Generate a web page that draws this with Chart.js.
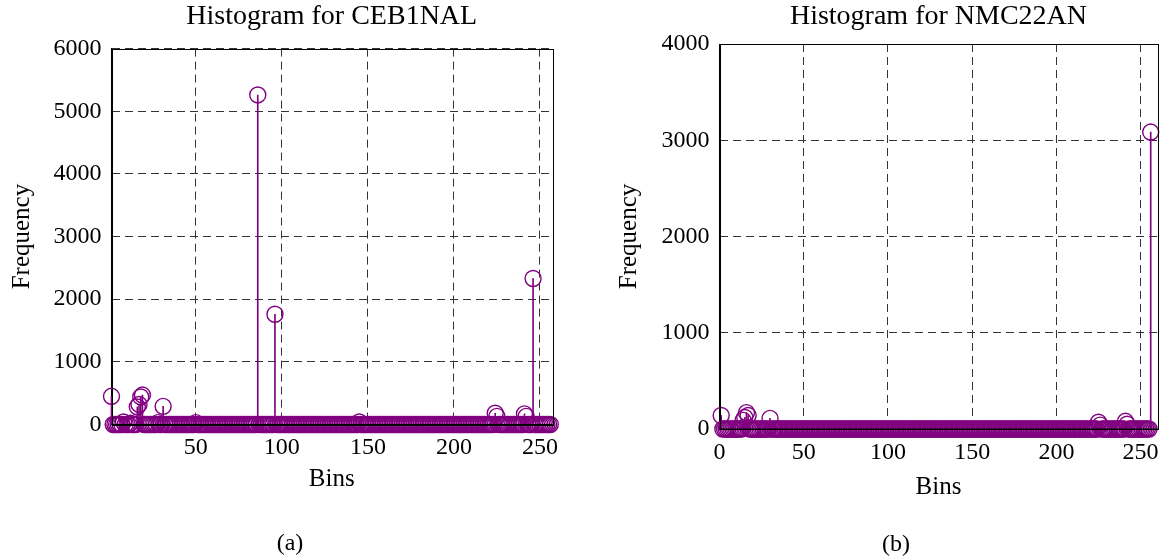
<!DOCTYPE html>
<html>
<head>
<meta charset="utf-8">
<title>Histograms</title>
<script src="https://cdn.jsdelivr.net/npm/chart.js@4.4.1/dist/chart.umd.min.js"></script>
<style>
  body { margin: 0; background: #fff; }
  #wrap { position: relative; width: 1168px; height: 560px; overflow: hidden; }
  .pane { position: absolute; top: 0; height: 560px; }
  .cap {
    position: absolute;
    font: 24px 'Liberation Serif', 'Times New Roman', serif;
    color: #000;
    transform: translate(-50%, -50%);
    white-space: nowrap;
  }
</style>
</head>
<body>
<div id="wrap">
  <div class="pane" style="left:0;width:580px"><canvas id="chartA" width="580" height="560"></canvas></div>
  <div class="pane" style="left:580px;width:588px"><canvas id="chartB" width="588" height="560"></canvas></div>
  <div class="cap" style="left:290px;top:542px">(a)</div>
  <div class="cap" style="left:896px;top:543px">(b)</div>
</div>
<script>
// bin numbers shared by both histograms
const bins = Array.from({ length: 256 }, (_, i) => i + 1);

// CEB1NAL counts, bins 1..256 (16 per row)
const countsA = [
  450, 0, 0, 0, 0, 0, 0, 40, 0, 0, 0, 20, 0, 0, 0, 280,
  320, 440, 470, 0, 0, 0, 0, 0, 0, 0, 0, 30, 0, 0, 290, 0,
  0, 0, 0, 0, 0, 0, 0, 0, 0, 0, 0, 0, 0, 0, 0, 0,
  0, 30, 0, 0, 0, 0, 0, 0, 0, 0, 0, 0, 0, 0, 0, 0,
  0, 0, 0, 0, 0, 0, 0, 0, 0, 0, 0, 0, 0, 0, 0, 0,
  0, 0, 0, 0, 0, 5260, 0, 0, 0, 0, 0, 0, 0, 0, 0, 1760,
  0, 0, 0, 0, 0, 0, 0, 0, 0, 0, 0, 0, 0, 0, 0, 0,
  0, 0, 0, 0, 0, 0, 0, 0, 0, 0, 0, 0, 0, 0, 0, 0,
  0, 0, 0, 0, 0, 0, 0, 0, 0, 0, 0, 0, 0, 0, 0, 0,
  40, 0, 0, 0, 0, 0, 0, 0, 0, 0, 0, 0, 0, 0, 0, 0,
  0, 0, 0, 0, 0, 0, 0, 0, 0, 0, 0, 0, 0, 0, 0, 0,
  0, 0, 0, 0, 0, 0, 0, 0, 0, 0, 0, 0, 0, 0, 0, 0,
  0, 0, 0, 0, 0, 0, 0, 0, 0, 0, 0, 0, 0, 0, 0, 0,
  0, 0, 0, 0, 0, 0, 0, 0, 0, 0, 0, 0, 0, 0, 0, 180,
  130, 0, 0, 0, 0, 0, 0, 0, 0, 0, 0, 0, 0, 0, 0, 0,
  170, 130, 0, 0, 0, 2330, 0, 0, 0, 0, 0, 0, 0, 0, 0, 0
];

// NMC22AN counts, bins 1..256 (16 per row)
const countsB = [
  140, 0, 0, 0, 0, 0, 0, 0, 0, 0, 0, 0, 0, 90, 120, 170,
  140, 0, 0, 0, 0, 0, 0, 0, 0, 0, 0, 0, 0, 110, 0, 0,
  0, 0, 0, 0, 0, 0, 0, 0, 0, 0, 0, 0, 0, 0, 0, 0,
  0, 0, 0, 0, 0, 0, 0, 0, 0, 0, 0, 0, 0, 0, 0, 0,
  0, 0, 0, 0, 0, 0, 0, 0, 0, 0, 0, 0, 0, 0, 0, 0,
  0, 0, 0, 0, 0, 0, 0, 0, 0, 0, 0, 0, 0, 0, 0, 0,
  0, 0, 0, 0, 0, 0, 0, 0, 0, 0, 0, 0, 0, 0, 0, 0,
  0, 0, 0, 0, 0, 0, 0, 0, 0, 0, 0, 0, 0, 0, 0, 0,
  0, 0, 0, 0, 0, 0, 0, 0, 0, 0, 0, 0, 0, 0, 0, 0,
  0, 0, 0, 0, 0, 0, 0, 0, 0, 0, 0, 0, 0, 0, 0, 0,
  0, 0, 0, 0, 0, 0, 0, 0, 0, 0, 0, 0, 0, 0, 0, 0,
  0, 0, 0, 0, 0, 0, 0, 0, 0, 0, 0, 0, 0, 0, 0, 0,
  0, 0, 0, 0, 0, 0, 0, 0, 0, 0, 0, 0, 0, 0, 0, 0,
  0, 0, 0, 0, 0, 0, 0, 0, 0, 0, 0, 0, 0, 0, 0, 0,
  70, 40, 0, 0, 0, 0, 0, 0, 0, 0, 0, 0, 0, 0, 0, 0,
  80, 50, 0, 0, 0, 0, 0, 0, 0, 0, 0, 0, 0, 0, 0, 3085
];

const xTicksA = [50, 100, 150, 200, 250];
const xTicksB = [0, 50, 100, 150, 200, 250];
const yTicksA = [0, 1000, 2000, 3000, 4000, 5000, 6000];
const yTicksB = [0, 1000, 2000, 3000, 4000];
const xRangeA = [1, 257];
const xRangeB = [0, 260];

const PURPLE = '#800080';
const FONT = "'Liberation Serif', 'Times New Roman', serif";

Chart.defaults.color = '#000';
Chart.defaults.font.family = FONT;

// MATLAB-style box round the axes
const boxPlugin = {
  id: 'box',
  afterDraw(chart) {
    const { ctx, chartArea: a } = chart;
    ctx.save();
    ctx.strokeStyle = '#000';
    ctx.lineWidth = 1;
    ctx.strokeRect(Math.round(a.left) + 0.5, Math.round(a.top) + 0.5,
      Math.round(a.right - a.left), Math.round(a.bottom - a.top));
    ctx.restore();
  }
};

function makeStemChart(id, title, counts, xTicks, yTicks, xRange, look) {
  const points = bins.map((b, i) => ({ x: b, y: counts[i] }));
  const baseline = xRange.map(x => ({ x: x, y: 0 }));

  return new Chart(document.getElementById(id), {
    type: 'scatter',
    data: {
      datasets: [
        {
          type: 'line',
          data: baseline,
          borderColor: '#000',
          borderWidth: 1,
          pointRadius: 0,
          clip: false
        },
        {
          type: 'scatter',
          data: points,
          pointStyle: 'circle',
          pointRadius: 8,
          pointBorderWidth: 1.4,
          pointBorderColor: PURPLE,
          pointBackgroundColor: 'rgba(0,0,0,0)',
          clip: false
        },
        {
          type: 'bar',
          data: points,
          backgroundColor: PURPLE,
          barThickness: 1,
          grouped: false,
          clip: false
        }
      ]
    },
    options: {
      responsive: false,
      animation: false,
      events: [],
      layout: { padding: look.padding },
      plugins: {
        legend: { display: false },
        tooltip: { enabled: false },
        title: {
          display: true,
          text: title,
          fullSize: false,
          color: '#000',
          font: { size: 28, weight: 'normal' },
          padding: { top: 0, bottom: look.titleGap }
        }
      },
      scales: {
        x: {
          type: 'linear',
          offset: false,
          min: xRange[0],
          max: xRange[1],
          afterBuildTicks: (axis) => { axis.ticks = xTicks.map(v => ({ value: v })); },
          afterFit: (axis) => { axis.height = look.xAxisHeight; },
          ticks: {
            font: { size: 24 }, padding: 9, maxRotation: 0, autoSkip: false,
            callback: (v) => String(v)
          },
          grid: { color: '#333', lineWidth: 1, drawTicks: false, offset: false },
          border: { display: true, color: '#000', width: 1, dash: [8, 5] },
          title: { display: true, text: 'Bins', font: { size: 25 }, padding: 0 }
        },
        y: {
          type: 'linear',
          min: yTicks[0],
          max: yTicks[yTicks.length - 1],
          afterBuildTicks: (axis) => { axis.ticks = yTicks.map(v => ({ value: v })); },
          afterFit: (axis) => { axis.width = look.yAxisWidth; },
          ticks: { font: { size: 24 }, padding: 10, callback: (v) => String(v) },
          grid: { color: '#333', lineWidth: 1, drawTicks: false },
          border: { display: true, color: '#000', width: 1, dash: [8, 5] },
          title: {
            display: true, text: 'Frequency', font: { size: 25 },
            padding: { top: look.yTitlePad, bottom: 0 }
          }
        }
      }
    },
    plugins: [boxPlugin]
  });
}

makeStemChart('chartA', 'Histogram for CEB1NAL', countsA, xTicksA, yTicksA, xRangeA, {
  padding: { left: 0, right: 28, top: 0, bottom: 65.5 },
  titleGap: 15,
  xAxisHeight: 70,
  yAxisWidth: 111.5,
  yTitlePad: 7
});

makeStemChart('chartB', 'Histogram for NMC22AN', countsB, xTicksB, yTicksB, xRangeB, {
  padding: { left: 0, right: 7.5, top: 0, bottom: 58 },
  titleGap: 10.4,
  xAxisHeight: 73,
  yAxisWidth: 139.5,
  yTitlePad: 34
});
</script>
</body>
</html>
